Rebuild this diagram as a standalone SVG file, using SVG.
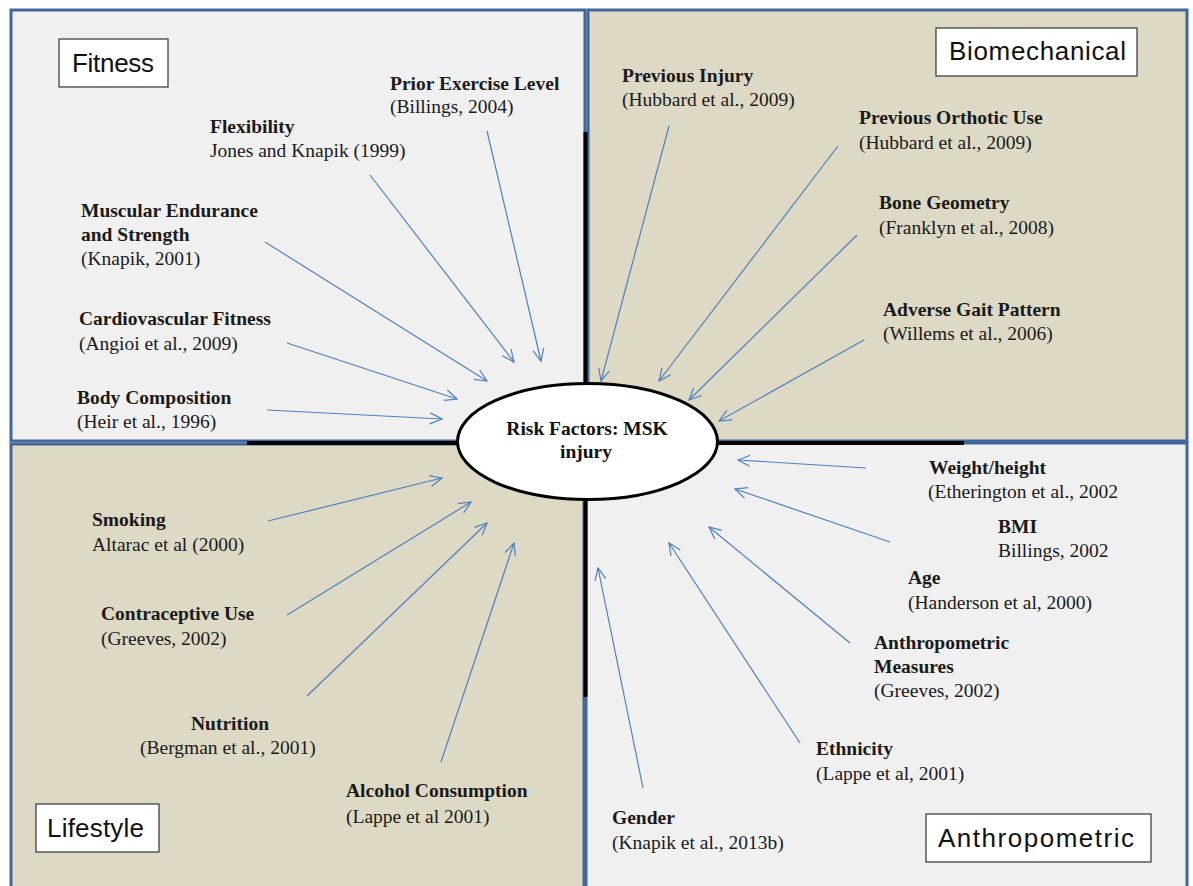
<svg xmlns="http://www.w3.org/2000/svg" width="1193" height="886" viewBox="0 0 1193 886">
<defs>
<style>
.qg{fill:#f0f0f0;stroke:#41679a;stroke-width:3}
.qt{fill:#ddd9c4;stroke:#41679a;stroke-width:3}
.div{stroke:#000;stroke-width:4;fill:none}
.box{fill:#fff;stroke:#333;stroke-width:1.2}
.bt{font-family:"Liberation Sans",Arial,sans-serif;font-size:26px;fill:#111}
.h{font-family:"Liberation Serif","Times New Roman",serif;font-size:19.5px;font-weight:bold;fill:#1a1a1a}
.r{font-family:"Liberation Serif","Times New Roman",serif;font-size:19.5px;fill:#1a1a1a}
.c{font-family:"Liberation Serif","Times New Roman",serif;font-size:19.5px;font-weight:bold;fill:#111;text-anchor:middle}
.ar{stroke:#4f81bd;stroke-width:1.2;fill:none;marker-end:url(#ah)}
</style>
<marker id="ah" markerUnits="userSpaceOnUse" markerWidth="16" markerHeight="14" refX="13" refY="7" orient="auto">
<path d="M1,1.5 L13,7 L1,12.5" fill="none" stroke="#4f81bd" stroke-width="1.2"/>
</marker>
</defs>

<g id="quadrants">
<rect id="q-fitness" class="qg" x="11" y="10" width="574" height="431"/>
<rect id="q-biomech" class="qt" x="588" y="10" width="599" height="431"/>
<rect id="q-lifestyle" class="qt" x="11" y="444" width="573" height="460"/>
<rect id="q-anthro" class="qg" x="586" y="443" width="601" height="460"/>
</g>

<g id="dividers">
<line class="div" x1="585.5" y1="132" x2="585.5" y2="420"/>
<line class="div" x1="585.5" y1="470" x2="585.5" y2="697"/>
<line class="div" x1="247" y1="443" x2="500" y2="443"/>
<line class="div" x1="680" y1="443" x2="964" y2="443"/>
</g>

<g id="connectors">
<line class="ar" x1="487" y1="131" x2="541" y2="361"/>
<line class="ar" x1="370" y1="175" x2="514" y2="362"/>
<line class="ar" x1="265" y1="242" x2="487" y2="381"/>
<line class="ar" x1="287" y1="343" x2="457" y2="399"/>
<line class="ar" x1="267" y1="410" x2="442" y2="419"/>
<line class="ar" x1="669" y1="126" x2="601" y2="381"/>
<line class="ar" x1="838" y1="146" x2="659" y2="381"/>
<line class="ar" x1="857" y1="235" x2="689" y2="400"/>
<line class="ar" x1="864" y1="340" x2="719" y2="421"/>
<line class="ar" x1="268" y1="521" x2="442" y2="478"/>
<line class="ar" x1="287" y1="615" x2="471" y2="502"/>
<line class="ar" x1="307" y1="696" x2="487" y2="523"/>
<line class="ar" x1="441" y1="762" x2="514" y2="543"/>
<line class="ar" x1="866" y1="468" x2="738" y2="460"/>
<line class="ar" x1="890" y1="542" x2="735" y2="489"/>
<line class="ar" x1="850" y1="643" x2="709" y2="527"/>
<line class="ar" x1="800" y1="743" x2="669" y2="543"/>
<line class="ar" x1="643" y1="788" x2="598" y2="568"/>
</g>

<g id="center">
<ellipse cx="587.5" cy="441.5" rx="130" ry="58" fill="#fff" stroke="#000" stroke-width="3"/>
<text class="c" x="587" y="435">Risk Factors:  MSK</text>
<text class="c" x="586" y="458">injury</text>
</g>

<g id="label-fitness">
<rect class="box" x="59" y="39" width="109" height="48"/>
<text class="bt" x="72" y="72" textLength="82">Fitness</text>
</g>
<g id="label-biomechanical">
<rect class="box" x="936" y="28" width="201" height="48"/>
<text class="bt" x="949" y="60" textLength="177">Biomechanical</text>
</g>
<g id="label-lifestyle">
<rect class="box" x="36" y="804" width="123" height="48"/>
<text class="bt" x="47" y="837" textLength="97">Lifestyle</text>
</g>
<g id="label-anthropometric">
<rect class="box" x="926" y="814" width="225" height="48"/>
<text class="bt" x="938" y="847" textLength="196">Anthropometric</text>
</g>

<g id="f-prior"><text class="h" x="390" y="90">Prior  Exercise Level</text><text class="r" x="390" y="113">(Billings,  2004)</text></g>
<g id="f-flex"><text class="h" x="210" y="133">Flexibility</text><text class="r" x="210" y="157">Jones and Knapik (1999)</text></g>
<g id="f-musc"><text class="h" x="81" y="217">Muscular  Endurance</text><text class="h" x="81" y="241">and Strength</text><text class="r" x="81" y="265">(Knapik, 2001)</text></g>
<g id="f-cardio"><text class="h" x="79" y="325">Cardiovascular  Fitness</text><text class="r" x="79" y="350">(Angioi  et al., 2009)</text></g>
<g id="f-body"><text class="h" x="77" y="404">Body Composition</text><text class="r" x="77" y="428">(Heir  et al., 1996)</text></g>

<g id="b-injury"><text class="h" x="622" y="82">Previous Injury</text><text class="r" x="622" y="106">(Hubbard et al., 2009)</text></g>
<g id="b-orthotic"><text class="h" x="859" y="124">Previous Orthotic  Use</text><text class="r" x="859" y="149">(Hubbard et al., 2009)</text></g>
<g id="b-bone"><text class="h" x="879" y="209">Bone Geometry</text><text class="r" x="879" y="234">(Franklyn  et al., 2008)</text></g>
<g id="b-gait"><text class="h" x="883" y="316">Adverse Gait  Pattern</text><text class="r" x="883" y="340">(Willems  et al., 2006)</text></g>

<g id="l-smoking"><text class="h" x="92" y="526">Smoking</text><text class="r" x="92" y="551">Altarac  et al (2000)</text></g>
<g id="l-contra"><text class="h" x="101" y="620">Contraceptive  Use</text><text class="r" x="101" y="645">(Greeves,  2002)</text></g>
<g id="l-nutrition"><text class="h" x="191" y="730">Nutrition</text><text class="r" x="140" y="754">(Bergman  et al., 2001)</text></g>
<g id="l-alcohol"><text class="h" x="346" y="797">Alcohol Consumption</text><text class="r" x="346" y="823">(Lappe et al 2001)</text></g>

<g id="a-weight"><text class="h" x="929" y="474">Weight/height</text><text class="r" x="928" y="498">(Etherington  et al., 2002</text></g>
<g id="a-bmi"><text class="h" x="998" y="533">BMI</text><text class="r" x="998" y="557">Billings,  2002</text></g>
<g id="a-age"><text class="h" x="908" y="584">Age</text><text class="r" x="908" y="609">(Handerson  et al, 2000)</text></g>
<g id="a-measures"><text class="h" x="874" y="649">Anthropometric</text><text class="h" x="874" y="673">Measures</text><text class="r" x="874" y="697">(Greeves,  2002)</text></g>
<g id="a-ethnicity"><text class="h" x="816" y="755">Ethnicity</text><text class="r" x="816" y="780">(Lappe et al, 2001)</text></g>
<g id="a-gender"><text class="h" x="612" y="824">Gender</text><text class="r" x="612" y="849">(Knapik et al., 2013b)</text></g>
</svg>
